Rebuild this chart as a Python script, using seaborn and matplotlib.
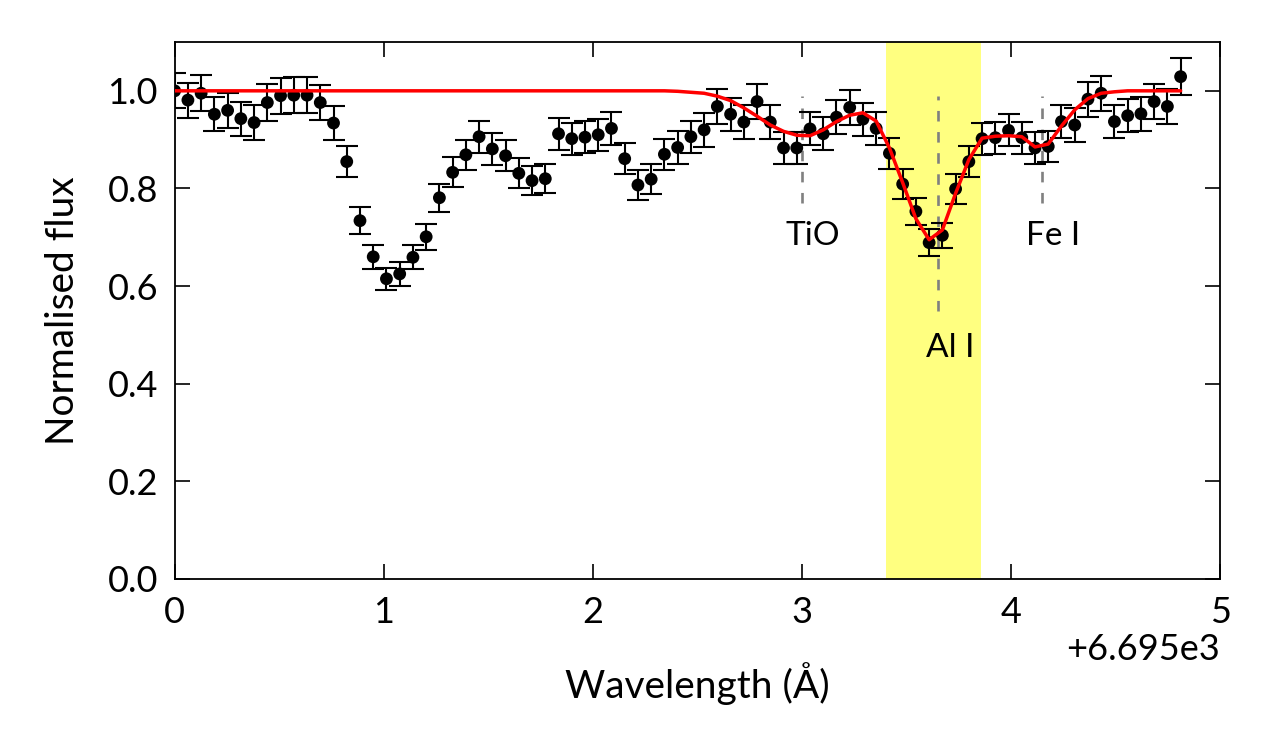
import numpy as np
import pandas as pd
import matplotlib
matplotlib.use("Agg")
import matplotlib.pyplot as plt
import seaborn as sns

# spectrum: wavelength grid (offset 6695 A), flux, error and model
start = 6695.0
step = 0.0633
flux = [1.000, 0.981, 0.995, 0.952, 0.960, 0.943, 0.935, 0.976, 0.990, 0.991,
        0.991, 0.976, 0.934, 0.855, 0.734, 0.660, 0.615, 0.625, 0.659, 0.701,
        0.781, 0.833, 0.869, 0.906, 0.881, 0.867, 0.831, 0.816, 0.820, 0.912,
        0.902, 0.905, 0.910, 0.923, 0.861, 0.807, 0.819, 0.870, 0.884, 0.906,
        0.920, 0.968, 0.952, 0.936, 0.978, 0.936, 0.883, 0.883, 0.922, 0.912,
        0.946, 0.966, 0.942, 0.923, 0.872, 0.809, 0.753, 0.689, 0.704, 0.799,
        0.855, 0.902, 0.904, 0.919, 0.904, 0.883, 0.886, 0.937, 0.930, 0.983,
        0.995, 0.937, 0.949, 0.953, 0.978, 0.968, 1.029]
err = [0.036, 0.036, 0.037, 0.035, 0.036, 0.035, 0.035, 0.037, 0.037, 0.037,
       0.037, 0.036, 0.035, 0.031, 0.027, 0.025, 0.023, 0.024, 0.025, 0.027,
       0.029, 0.031, 0.031, 0.033, 0.033, 0.032, 0.031, 0.030, 0.030, 0.033,
       0.033, 0.033, 0.033, 0.034, 0.032, 0.031, 0.031, 0.032, 0.033, 0.033,
       0.035, 0.035, 0.034, 0.034, 0.035, 0.034, 0.032, 0.032, 0.034, 0.034,
       0.035, 0.035, 0.034, 0.034, 0.032, 0.030, 0.028, 0.027, 0.026, 0.030,
       0.031, 0.033, 0.033, 0.033, 0.033, 0.032, 0.032, 0.034, 0.034, 0.036,
       0.036, 0.034, 0.034, 0.035, 0.035, 0.035, 0.038]
model = [1.000] * 38 + [
        0.999, 0.997, 0.995, 0.989, 0.980, 0.965, 0.948, 0.930, 0.917, 0.909,
        0.908, 0.920, 0.937, 0.950, 0.955, 0.938, 0.883, 0.812, 0.738, 0.695,
        0.715, 0.790, 0.859, 0.903, 0.907, 0.908, 0.906, 0.885, 0.891, 0.928,
        0.961, 0.984, 0.995, 0.998, 1.000, 1.000, 1.000, 1.000, 1.000]

lines = ["TiO", "Al I", "Fe I"]
line_wl = [6697.999, 6698.652, 6699.147]
line_lo = [0.77, 0.55, 0.77]
label_x = [6698.05, 6698.71, 6699.20]
label_y = [0.703, 0.473, 0.703]
band = [6698.402, 6698.856]

wl = start + step * np.arange(len(flux))
df = pd.DataFrame({"wl": wl, "flux": flux, "err": err, "model": model})

sns.set_style("ticks", {"axes.edgecolor": "black", "text.color": "black",
                        "axes.labelcolor": "black", "xtick.color": "black",
                        "ytick.color": "black"})
plt.rcParams['font.family'] = ['Lato', 'DejaVu Sans']

fig, ax = plt.subplots(figsize=(12.75, 7.5), dpi=100)
fig.subplots_adjust(left=0.137, right=0.957, top=0.944, bottom=0.228)

ax.axvspan(band[0], band[1], color="#ffff80", lw=0, zorder=0)

for name, x0, lo, tx, ty in zip(lines, line_wl, line_lo, label_x, label_y):
    ax.plot([x0, x0], [lo, 0.99], color="grey", lw=1.9, dashes=(4, 4), zorder=1)
    ax.text(tx, ty, name, ha="center", va="center", fontsize=24)

ax.errorbar(df["wl"], df["flux"], yerr=df["err"], fmt="none", ecolor="black",
            elinewidth=1.5, capsize=8, capthick=1.5, zorder=2)
sns.scatterplot(data=df, x="wl", y="flux", color="black", s=85, edgecolor="none",
                zorder=3, ax=ax)
sns.lineplot(data=df, x="wl", y="model", color="red", lw=2.5, zorder=4, ax=ax)

ax.set_xlim(6695, 6700)
ax.set_ylim(0, 1.1)
ax.set_yticks([0.0, 0.2, 0.4, 0.6, 0.8, 1.0])
ax.xaxis.get_major_formatter().set_useOffset(6695)
ax.set_xlabel("Wavelength (Å)", fontsize=28, labelpad=24)
ax.set_ylabel("Normalised flux", fontsize=28, labelpad=19)
ax.tick_params(direction="in", length=11, width=1.2, pad=12, labelsize=26,
               top=True, right=True)
ax.xaxis.get_offset_text().set_fontsize(26)
for s in ax.spines.values():
    s.set_linewidth(1.3)
    s.set_visible(True)

fig.savefig("out.png", dpi=100)
